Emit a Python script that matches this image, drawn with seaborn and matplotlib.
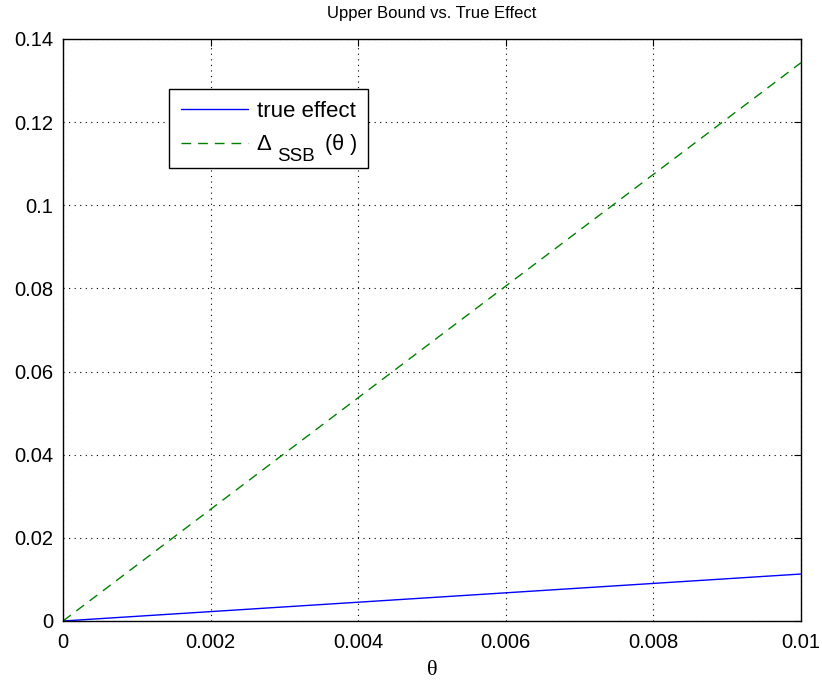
import numpy as np
import pandas as pd
import matplotlib
matplotlib.use("Agg")
import matplotlib.pyplot as plt
import seaborn as sns

theta = [0.0, 0.01]
true_effect = [0.0, 0.0113]
delta_ssb = [0.0, 0.1343]
xticks = [0, 0.002, 0.004, 0.006, 0.008, 0.01]
xticklabels = ["0", "0.002", "0.004", "0.006", "0.008", "0.01"]
yticks = [0, 0.02, 0.04, 0.06, 0.08, 0.1, 0.12, 0.14]
yticklabels = ["0", "0.02", "0.04", "0.06", "0.08", "0.1", "0.12", "0.14"]

sns.set_style("white")
plt.rcParams['font.family'] = ['Liberation Sans', 'DejaVu Sans']
plt.rcParams['text.color'] = 'black'
plt.rcParams['axes.labelcolor'] = 'black'

df = pd.DataFrame({"theta": theta * 2,
                   "value": true_effect + delta_ssb,
                   "series": ["true"] * 2 + ["ssb"] * 2})

fig = plt.figure(figsize=(8.22, 6.81), dpi=100)
ax = fig.add_axes([63/822, 60/681, 738/822, 582/681])

sns.lineplot(data=df[df.series == "true"], x="theta", y="value", ax=ax,
             color="#0000ff", lw=1.0, label="true effect")
sns.lineplot(data=df[df.series == "ssb"], x="theta", y="value", ax=ax,
             color="#008000", lw=1.0, label="Δ")
ax.lines[1].set_linestyle((0, (7, 5)))

ax.set_xlim(0, 0.01)
ax.set_ylim(0, 0.14)
ax.set_xticks(xticks)
ax.set_xticklabels(xticklabels)
ax.set_yticks(yticks)
ax.set_yticklabels(yticklabels)
ax.tick_params(direction="in", length=5, width=0.8, labelsize=14.5, top=True, right=True,
               colors="black", labelcolor="black")
ax.tick_params(axis="y", pad=7)
ax.tick_params(axis="x", pad=9)
ax.grid(True, linestyle=(0, (1, 4)), color="black", lw=0.8)
for s in ax.spines.values():
    s.set_visible(True)
    s.set_color("black")
    s.set_linewidth(1.0)

ax.set_xlabel("θ", fontsize=16, family=["Liberation Serif", "DejaVu Serif"], labelpad=6)
ax.set_ylabel("")
ax.set_title("Upper Bound vs. True Effect", fontsize=12, pad=15, color="black")

leg = ax.legend(loc="upper left", bbox_to_anchor=(0.1436, 0.914), fontsize=16,
                frameon=True, fancybox=False, edgecolor="black", framealpha=1,
                handlelength=3.0, handletextpad=0.4, borderaxespad=0,
                borderpad=0.55, labelspacing=0.55)
leg.get_frame().set_linewidth(1.0)
for t in leg.texts:
    t.set_color("black")

fig.canvas.draw()
bb = leg.texts[1].get_window_extent()
ax.annotate("SSB", xy=(bb.x0, bb.y0), xycoords="figure pixels", xytext=(14.5, -4.0),
            textcoords="offset points", fontsize=13.5, va="baseline", ha="left",
            color="black", zorder=10)
ax.annotate("(θ )", xy=(bb.x0, bb.y0), xycoords="figure pixels", xytext=(49, 0),
            textcoords="offset points", fontsize=15.5, va="bottom", ha="left",
            color="black", zorder=10)

fig.savefig("out.png", dpi=100)
